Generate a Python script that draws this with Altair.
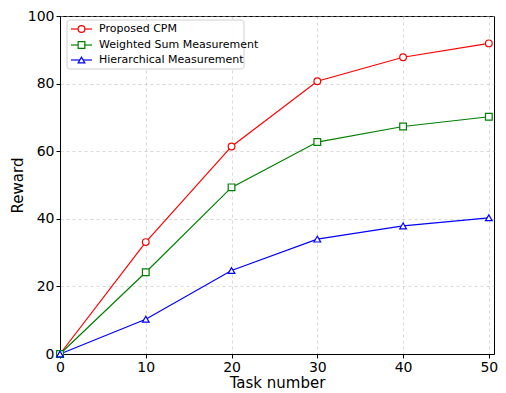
import altair as alt
import pandas as pd

tasks = [0, 10, 20, 30, 40, 50]
series_names = ["Proposed CPM", "Weighted Sum Measurement", "Hierarchical Measurement"]
proposed = [0, 33.1, 61.4, 80.7, 87.8, 91.9]
weighted = [0, 24.2, 49.3, 62.7, 67.3, 70.2]
hierarchical = [0, 10.3, 24.7, 34.0, 37.9, 40.3]
colors = ["#ff0000", "#008000", "#0000ff"]
shapes = ["circle", "square", "triangle-up"]

rows = []
for name, vals in zip(series_names, [proposed, weighted, hierarchical]):
    for t, v in zip(tasks, vals):
        rows.append({"task": t, "reward": v, "series": name})
df = pd.DataFrame(rows)

xs = alt.Scale(domain=[0, 50.6], nice=False, zero=False)
ys = alt.Scale(domain=[0, 100], nice=False)
cs = alt.Scale(domain=series_names, range=colors)
ss = alt.Scale(domain=series_names, range=shapes)

x_enc = alt.X("task:Q", scale=xs, title="Task number",
              axis=alt.Axis(values=[0, 10, 20, 30, 40, 50], format="d"))
y_enc = alt.Y("reward:Q", scale=ys, title="Reward",
              axis=alt.Axis(values=[0, 20, 40, 60, 80, 100], format="d"))

lines = alt.Chart(df).mark_line(strokeWidth=1.2, clip=False).encode(
    x=x_enc, y=y_enc,
    color=alt.Color("series:N", scale=cs, legend=None),
    detail="series:N",
)
points = alt.Chart(df).mark_point(filled=True, fill="white", strokeWidth=1.2, size=45, opacity=1, clip=False).encode(
    x="task:Q", y="reward:Q",
    stroke=alt.Stroke("series:N", scale=cs, legend=None),
    shape=alt.Shape("series:N", scale=ss, legend=None),
)

# manual legend (pixel positions within plot area)
leg = pd.DataFrame({
    "series": series_names,
    "ly": [13, 29, 44],
})
box = alt.Chart(pd.DataFrame({"a": [0]})).mark_rect(
    fill="white", stroke="#cccccc", strokeWidth=1, cornerRadius=3, opacity=0.9
).encode(x=alt.value(7), x2=alt.value(184), y=alt.value(4), y2=alt.value(53))
leg_lines = alt.Chart(leg).mark_rule(strokeWidth=1.2).encode(
    x=alt.value(11), x2=alt.value(32),
    y=alt.Y("ly:Q", scale=None),
    color=alt.Color("series:N", scale=cs, legend=None),
)
leg_pts = alt.Chart(leg).mark_point(filled=True, fill="white", strokeWidth=1.2, size=45, opacity=1).encode(
    x=alt.value(21.5),
    y=alt.Y("ly:Q", scale=None),
    stroke=alt.Stroke("series:N", scale=cs, legend=None),
    shape=alt.Shape("series:N", scale=ss, legend=None),
)
leg_text = alt.Chart(leg).mark_text(align="left", baseline="middle", fontSize=11,
                                    font="DejaVu Sans", color="black").encode(
    x=alt.value(39),
    y=alt.Y("ly:Q", scale=None),
    text="series:N",
)

chart = alt.layer(lines, points, box, leg_lines, leg_pts, leg_text).properties(
    width=434, height=338,
    autosize=alt.AutoSizeParams(type="none"),
    padding={"left": 52, "top": 8, "right": 4, "bottom": 36},
).configure_view(
    stroke="black", strokeWidth=1
).configure_axis(
    labelFont="DejaVu Sans", titleFont="DejaVu Sans",
    labelFontSize=14, titleFontSize=15, titleFontWeight="normal",
    labelColor="black", titleColor="black",
    domainColor="black", tickColor="black", tickSize=4,
    gridColor="#b0b0b0", gridDash=[3, 3], gridOpacity=0.7, gridWidth=0.7,
    labelPadding=2, labelFlush=False, labelOverlap=False,
).configure_axisX(titlePadding=1).configure_axisY(titlePadding=2)

chart.save("out.html", embed_options={"renderer": "svg", "actions": False})
